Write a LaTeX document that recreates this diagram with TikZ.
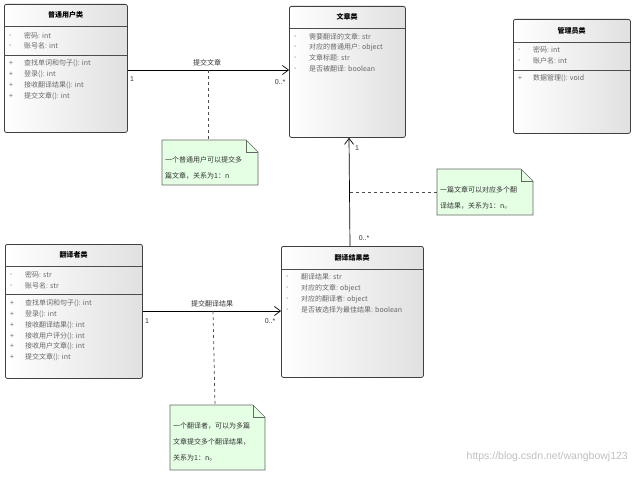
\documentclass[tikz,border=0pt]{standalone}
\usepackage{fontspec}
\setmainfont{Liberation Sans}
\newfontfamily\cjk{Noto Sans CJK SC}
\usetikzlibrary{positioning,shapes.misc}
\tikzset{
  classbox/.style={draw=black!75,line width=0.8pt,rounded corners=2pt,anchor=north west,
    left color=white,right color=black!12,inner sep=0pt},
  sepline/.style={draw=black!70,line width=0.8pt},
  rowtxt/.style={anchor=west,inner sep=0pt,text=black!60,font=\cjk\fontsize{7}{8}\selectfont},
  titletxt/.style={inner sep=0pt,font=\cjk\bfseries\fontsize{7}{8}\selectfont},
  notebox/.style={fill=green!10,draw=black!60,line width=0.6pt,anchor=north west,inner sep=0pt},
  notetxt/.style={anchor=west,inner sep=0pt,font=\cjk\fontsize{7}{8}\selectfont,text=black!80},
  assoc/.style={->,>={Straight Barb[length=6pt,width=9pt]},line width=0.7pt},
  notelink/.style={dashed,draw=black!70,line width=0.7pt},
  multtxt/.style={inner sep=0pt,font=\fontsize{7}{8}\selectfont,text=black!80}
}
\usetikzlibrary{arrows.meta}
% class box: name, x1, y1, x2, y2, header y, separator y, title
\newcommand{\umlbox}[8]{
  \node[classbox,minimum width=#4pt-#2pt,minimum height=#5pt-#3pt] (#1) at (#2,#3) {};
  \draw[sepline] (#2,#6) -- (#4,#6);
  \draw[sepline] (#2,#7) -- (#4,#7);
  \node[titletxt] (#1-t) at ({(#2+#4)/2},{(#3+#6)/2}) {#8};
}
\newcommand{\umlrow}[4]{
  \node[rowtxt] at (#1+5,#2) {#3};
  \node[rowtxt] at (#1+20,#2) {#4};
}
\begin{document}
\begin{tikzpicture}[x=1pt,y=-1pt]
\useasboundingbox (0,0) rectangle (636,476);
% classes
\umlbox{user}{4}{4}{127}{132}{26}{55}{普通用户类}
\umlrow{4}{36}{-}{密码: int}
\umlrow{4}{46}{-}{账号名: int}
\umlrow{4}{63}{+}{查找单词和句子(): int}
\umlrow{4}{74}{+}{登录(): int}
\umlrow{4}{85}{+}{接收翻译结果(): int}
\umlrow{4}{96}{+}{提交文章(): int}

\umlbox{article}{289}{6}{405}{137}{28}{28}{文章类}
\umlrow{289}{37}{-}{需要翻译的文章: str}
\umlrow{289}{47}{-}{对应的普通用户: object}
\umlrow{289}{58}{-}{文章标题: str}
\umlrow{289}{69}{-}{是否被翻译: boolean}

\umlbox{admin}{513}{19}{630}{133}{42}{70}{管理员类}
\umlrow{513}{50}{-}{密码: int}
\umlrow{513}{61}{-}{账户名: int}
\umlrow{513}{78}{+}{数据管理(): void}

\umlbox{translator}{5}{244}{142}{378}{266}{294}{翻译者类}
\umlrow{5}{275}{-}{密码: str}
\umlrow{5}{286}{-}{账号名: str}
\umlrow{5}{303}{+}{查找单词和句子(): int}
\umlrow{5}{314}{+}{登录(): int}
\umlrow{5}{325}{+}{接收翻译结果(): int}
\umlrow{5}{336}{+}{接收用户评分(): int}
\umlrow{5}{346}{+}{接收用户文章(): int}
\umlrow{5}{357}{+}{提交文章(): int}

\umlbox{result}{281}{246}{423}{377}{269}{269}{翻译结果类}
\umlrow{281}{277}{-}{翻译结果: str}
\umlrow{281}{288}{-}{对应的文章: object}
\umlrow{281}{299}{-}{对应的翻译者: object}
\umlrow{281}{310}{-}{是否被选择为最佳结果: boolean}

% notes
\draw[notebox] (162,140) -- (246,140) -- (258,152) -- (258,185) -- (162,185) -- cycle;
\draw[black!60] (246,140) -- (246,152) -- (258,152);
\node[notetxt] (n1) at (165,160) {一个普通用户可以提交多};
\node[notetxt] at (165,176) {篇文章，关系为1：n};
\draw[notebox] (437,169) -- (521,169) -- (533,181) -- (533,215) -- (437,215) -- cycle;
\draw[black!60] (521,169) -- (521,181) -- (533,181);
\node[notetxt] (n2) at (440,190) {一篇文章可以对应多个翻};
\node[notetxt] at (440,206) {译结果，关系为1：n。};
\draw[notebox] (170,405) -- (253,405) -- (265,417) -- (265,470) -- (170,470) -- cycle;
\draw[black!60] (253,405) -- (253,417) -- (265,417);
\node[notetxt] (n3) at (173,426) {一个翻译者，可以为多篇};
\node[notetxt] at (173,442) {文章提交多个翻译结果，};
\node[notetxt] at (173,458) {关系为1：n。};

% associations
\coordinate (a1) at (208,70);
\coordinate (a2) at (350,192);
\coordinate (a3) at (213,311);
\draw[assoc] (user.east |- 0,70) -- (article.west |- 0,70);
\node[multtxt,above] at (207,66) {\cjk 提交文章};
\node[multtxt] at (132,79) {1};
\node[multtxt] at (280,82) {0..*};
\draw[assoc] (result.north -| 350,0) -- (article.south -| 349,0);
\node[multtxt] at (357,148) {1};
\node[multtxt] at (364,238) {0..*};
\draw[assoc] (translator.east |- 0,311) -- (result.west |- 0,311);
\node[multtxt,above] at (212,307) {\cjk 提交翻译结果};
\node[multtxt] at (147,321) {1};
\node[multtxt] at (270,321) {0..*};
% note links
\draw[notelink] (a1) -- (208,140);
\draw[notelink] (a2) -- (437,192);
\draw[notelink] (a3) -- (215,405);

\node[anchor=east,inner sep=0pt,text=black!25,font=\fontsize{10.5}{12}\selectfont] at (628,457) {https://blog.csdn.net/wangbowj123};
\end{tikzpicture}
\end{document}
